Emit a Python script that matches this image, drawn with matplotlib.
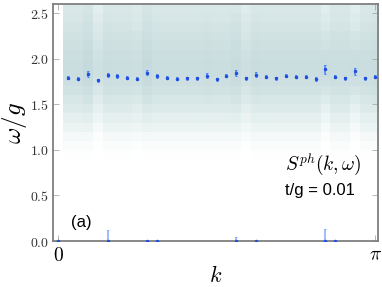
import numpy as np
import matplotlib
matplotlib.use("Agg")
import matplotlib.pyplot as plt
from matplotlib.colors import LinearSegmentedColormap

plt.rcParams['mathtext.fontset'] = 'cm'
plt.rcParams['font.family'] = ['DejaVu Serif']

# ---- data ----
n_index = np.arange(1, 33)                     # momentum index, k = n*pi/32
peak_omega = [1.793, 1.782, 1.832, 1.763, 1.821, 1.807, 1.793, 1.782,
              1.848, 1.807, 1.793, 1.782, 1.785, 1.785, 1.815, 1.774,
              1.815, 1.843, 1.785, 1.826, 1.804, 1.785, 1.815, 1.804,
              1.804, 1.777, 1.884, 1.804, 1.785, 1.862, 1.785, 1.804]
peak_err = [0.020, 0.020, 0.030, 0.015, 0.025, 0.020, 0.020, 0.020,
            0.025, 0.020, 0.020, 0.015, 0.020, 0.020, 0.025, 0.020,
            0.020, 0.030, 0.020, 0.025, 0.020, 0.015, 0.020, 0.020,
            0.020, 0.020, 0.050, 0.020, 0.015, 0.040, 0.020, 0.020]

low_n = [0, 5, 9, 10, 18, 20, 27, 28]
low_omega = [0.005, 0.005, 0.005, 0.005, 0.005, 0.005, 0.005, 0.005]
low_err = [0.0, 0.12, 0.0, 0.0, 0.045, 0.0, 0.13, 0.0]

# spectral weight: omega bins (0.1 wide, 0..2.6) profile and column factors
omega_edges = np.round(np.arange(0, 2.61, 0.1), 2)
profile = [0, 0, 0, 0, 0, 0, 0, 0, 0, 0.03,
           0.10, 0.22, 0.38, 0.52, 0.64, 0.74, 0.82, 0.88, 0.92, 0.92,
           0.90, 0.86, 0.82, 0.78, 0.74, 0.70]
col_amp = [0.90, 0.90, 0.98, 0.88, 0.92, 0.90, 0.90, 0.90,
           0.98, 0.90, 0.90, 0.90, 0.90, 0.90, 0.92, 0.90,
           0.90, 0.95, 0.88, 0.92, 0.90, 0.90, 0.90, 0.90,
           0.90, 0.90, 0.98, 0.90, 0.90, 0.98, 0.90, 0.92]
col_gamma = [1.0, 1.0, 1.0, 1.6, 1.0, 1.0, 1.0, 1.2,
             1.0, 1.0, 1.0, 1.0, 1.0, 1.0, 1.0, 1.0,
             1.0, 1.0, 1.3, 1.0, 1.0, 1.0, 1.0, 1.0,
             1.0, 1.0, 1.8, 1.0, 1.0, 1.8, 1.0, 1.0]

x_ticks = [0, np.pi]
x_ticklabels = [r'$0$', r'$\pi$']
y_ticks = [0.0, 0.5, 1.0, 1.5, 2.0, 2.5]
y_ticklabels = [r'$0.0$', r'$0.5$', r'$1.0$', r'$1.5$', r'$2.0$', r'$2.5$']

# ---- figure ----
fig = plt.figure(figsize=(3.82, 2.87), dpi=100)
ax = fig.add_axes([0.140, 0.160, 0.8495, 0.826])

k = n_index * np.pi / 32
dk = np.pi / 32
k_edges = np.concatenate([k - dk / 2, [k[-1] + dk / 2]])
prof = np.array(profile)[:, None]
Z = np.array(col_amp)[None, :] * prof ** np.array(col_gamma)[None, :]

cmap = LinearSegmentedColormap.from_list('teal', ['#ffffff', '#e3eeee', '#bed5d7'])
ax.pcolormesh(k_edges, omega_edges, Z, cmap=cmap, vmin=0, vmax=1.0,
              shading='flat', rasterized=True, zorder=1)

ax.errorbar(k, peak_omega, yerr=peak_err, fmt='o', ms=1.5, color='#1e4fe0',
            ecolor='#4a80ff', elinewidth=1.1, capsize=1.0, capthick=0.7, zorder=3)
k_low = np.array(low_n) * np.pi / 32
ax.errorbar(k_low, low_omega, yerr=low_err, fmt='o', ms=1.5, color='#1e4fe0',
            ecolor='#86a9ff', elinewidth=1.1, capsize=1.0, capthick=0.7, zorder=3,
            clip_on=True)

ax.set_xlim(-0.0447, 3.171)
ax.set_ylim(0, 2.6)
ax.set_xticks(x_ticks)
ax.set_xticklabels(x_ticklabels, fontsize=14)
ax.set_yticks(y_ticks)
ax.set_yticklabels(y_ticklabels, fontsize=10, color='#333333')
ax.tick_params(direction='in', length=4, width=0.6, color='#aaaaaa',
               top=True, right=True, pad=3)
ax.tick_params(axis='x', pad=4)
for s in ax.spines.values():
    s.set_color('#7f7f7f')
    s.set_linewidth(1.3)

ax.set_xlabel(r'$k$', fontsize=16, labelpad=0)
ax.set_ylabel(r'$\omega/g$', fontsize=18, labelpad=1)

ax.text(0.83, 0.32, r'$S^{ph}(k,\omega)$', transform=ax.transAxes,
        fontsize=14, ha='center', va='center')
ax.text(0.82, 0.215, 't/g = 0.01', transform=ax.transAxes,
        fontsize=12, ha='center', va='center', family='Liberation Sans')
ax.text(0.085, 0.08, '(a)', transform=ax.transAxes,
        fontsize=12, ha='center', va='center', family='Liberation Sans')

fig.savefig('out.png', dpi=100)
